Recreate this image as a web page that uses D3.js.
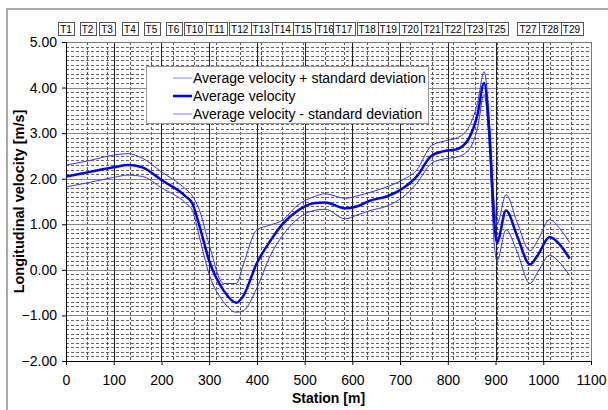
<!DOCTYPE html>
<html>
<head>
<meta charset="utf-8">
<script src="https://cdn.jsdelivr.net/npm/d3@7"></script>
<style>
  body { margin: 0; background: #fff; }
  text { font-family: "Liberation Sans", Arial, sans-serif; }
</style>
</head>
<body>
<div id="chart"></div>
<script>
// data
const stations = [0, 50, 100, 130, 160, 200, 250, 265, 280, 300, 330, 357, 371, 400, 427, 455, 483, 518, 543, 585,
  609, 637, 672, 706, 735, 765, 790, 820, 845, 862, 876, 887, 897, 903, 922, 945, 972, 990, 1013, 1035, 1055];
const meanVel = [2.05, 2.15, 2.25, 2.3, 2.25, 1.97, 1.62, 1.45, 0.95, 0.2, -0.45, -0.72, -0.58, 0.15, 0.62, 1.02, 1.28, 1.46, 1.48, 1.35,
  1.39, 1.52, 1.61, 1.79, 2.05, 2.5, 2.6, 2.65, 2.9, 3.4, 4.1, 3.0, 1.1, 0.6, 1.3, 0.75, 0.12, 0.35, 0.72, 0.55, 0.25];
const upperVel = [2.3, 2.4, 2.52, 2.55, 2.45, 2.15, 1.78, 1.62, 1.3, 0.55, -0.3, -0.3, 0.1, 0.88, 0.98, 1.1, 1.4, 1.6, 1.67, 1.57,
  1.62, 1.7, 1.82, 1.98, 2.19, 2.72, 2.82, 2.9, 3.15, 3.65, 4.35, 3.3, 1.5, 1.0, 1.65, 1.05, 0.42, 0.68, 1.1, 0.9, 0.6];
const lowerVel = [1.82, 1.92, 2.03, 2.08, 2.05, 1.8, 1.47, 1.3, 0.7, -0.1, -0.7, -0.93, -0.9, -0.4, 0.29, 0.77, 1.1, 1.3, 1.33, 1.12,
  1.2, 1.3, 1.4, 1.6, 1.9, 2.33, 2.43, 2.48, 2.65, 3.1, 3.85, 2.7, 0.6, 0.2, 0.88, 0.4, -0.3, -0.02, 0.32, 0.15, -0.12];

// cross-section labels along the top
const sectionNames = ["T1", "T2", "T3", "T4", "T5", "T6", "T10", "T11", "T12", "T13", "T14", "T15", "T16", "T17",
  "T18", "T19", "T20", "T21", "T22", "T23", "T25", "T27", "T28", "T29"];
const sectionPos = [0, 45, 86, 134, 179, 225, 269, 315, 364, 409, 453, 497, 543, 582,
  631, 675, 721, 767, 811, 857, 903, 968, 1014, 1059];

const xTicks = [0, 100, 200, 300, 400, 500, 600, 700, 800, 900, 1000, 1100];
const yTicks = [-2, -1, 0, 1, 2, 3, 4, 5];

const legendLabels = ["Average velocity + standard deviation", "Average velocity", "Average velocity - standard deviation"];

// dimensions
const W = 608, H = 410;
const margin = {top: 42, right: 17, bottom: 49, left: 66};
const width = W - margin.left - margin.right;
const height = H - margin.top - margin.bottom;

const svg = d3.select("#chart").append("svg")
  .attr("width", W).attr("height", H);

// outer frame
svg.append("rect")
  .attr("x", 7).attr("y", 9).attr("width", W - 6).attr("height", H - 8)
  .attr("fill", "none").attr("stroke", "#aaa").attr("stroke-width", 2);

const g = svg.append("g").attr("transform", `translate(${margin.left},${margin.top})`);

const x = d3.scaleLinear().domain([0, 1100]).range([0, width]);
const y = d3.scaleLinear().domain([-2, 5]).range([height, 0]);

// minor horizontal grid
const minorY = d3.range(-20, 51).map(d => d / 10).filter(d => Math.round(d * 10) % 10 !== 0);
g.append("g").selectAll("line").data(minorY).join("line")
  .attr("x1", 0).attr("x2", width)
  .attr("y1", d => Math.round(y(d)) + 0.5).attr("y2", d => Math.round(y(d)) + 0.5)
  .attr("stroke", "#666").attr("stroke-width", 1).attr("stroke-dasharray", "3,2");

// vertical dashed lines at the sections
g.append("g").selectAll("line").data(sectionPos.filter(d => d > 0)).join("line")
  .attr("x1", d => Math.round(x(d)) + 0.5).attr("x2", d => Math.round(x(d)) + 0.5)
  .attr("y1", 0).attr("y2", height)
  .attr("stroke", "#555").attr("stroke-width", 1).attr("stroke-dasharray", "3,2");

// major grid
g.append("g").selectAll("line").data(yTicks).join("line")
  .attr("x1", 0).attr("x2", width)
  .attr("y1", d => Math.round(y(d)) + 0.5).attr("y2", d => Math.round(y(d)) + 0.5)
  .attr("stroke", "#888");
g.append("g").selectAll("line").data(xTicks).join("line")
  .attr("x1", d => Math.round(x(d)) + 0.5).attr("x2", d => Math.round(x(d)) + 0.5)
  .attr("y1", 0).attr("y2", height)
  .attr("stroke", "#222");

// plot frame
g.append("rect").attr("x", 0.5).attr("y", 0.5).attr("width", width).attr("height", height)
  .attr("fill", "none").attr("stroke", "#777");

// axes
const xAxis = d3.axisBottom(x).tickValues(xTicks).tickSize(4).tickFormat(d3.format("d"));
const yAxis = d3.axisLeft(y).tickValues(yTicks).tickSize(4).tickFormat(d3.format(".2f"));

g.append("g").attr("transform", `translate(0,${height})`).call(xAxis)
  .call(a => a.select(".domain").attr("stroke", "#000"))
  .call(a => a.selectAll("text").attr("font-size", 14).attr("dy", "1.2em").attr("fill", "#000"));
g.append("g").call(yAxis)
  .call(a => a.select(".domain").attr("stroke", "#000"))
  .call(a => a.selectAll("text").attr("font-size", 14).attr("x", -9).attr("fill", "#000"));

// axis titles
svg.append("text")
  .attr("x", margin.left + width / 2).attr("y", 403)
  .attr("text-anchor", "middle").attr("font-size", 14).attr("font-weight", "bold")
  .text("Station [m]");
svg.append("text")
  .attr("transform", `translate(24,${margin.top + height / 2}) rotate(-90)`)
  .attr("text-anchor", "middle").attr("font-size", 14.5).attr("font-weight", "bold")
  .text("Longitudinal velocity [m/s]");

// section label boxes
const secG = svg.append("g").selectAll("g").data(sectionNames).join("g");
secG.append("text")
  .attr("x", (d, i) => margin.left + x(sectionPos[i]))
  .attr("y", 32.5).attr("text-anchor", "middle").attr("font-size", 10)
  .text(d => d)
  .each(function () {
    const b = this.getBBox();
    d3.select(this.parentNode).insert("rect", "text")
      .attr("x", Math.round(b.x - 2) + 0.5).attr("y", 22.5)
      .attr("width", Math.round(b.width + 4)).attr("height", 13)
      .attr("fill", "#fff").attr("stroke", "#555");
  });

// lines
const line = d3.line()
  .x((d, i) => x(stations[i]))
  .y(d => y(d))
  .curve(d3.curveMonotoneX);

g.append("path").datum(upperVel).attr("d", line)
  .attr("fill", "none").attr("stroke", "#3333ff").attr("stroke-width", 1);
g.append("path").datum(lowerVel).attr("d", line)
  .attr("fill", "none").attr("stroke", "#3333ff").attr("stroke-width", 1);
g.append("path").datum(meanVel).attr("d", line)
  .attr("fill", "none").attr("stroke", "#0000ff").attr("stroke-width", 2.5);

// legend
const lg = svg.append("g").attr("transform", "translate(146,66)");
lg.append("rect").attr("x", 0.5).attr("y", 0.5).attr("width", 282).attr("height", 57)
  .attr("fill", "#fff").attr("stroke", "#999");
const legendStyles = [{c: "#8080ff", w: 1}, {c: "#0000ff", w: 2.5}, {c: "#8080ff", w: 1}];
legendLabels.forEach((lab, i) => {
  const yy = 12 + i * 18;
  lg.append("line").attr("x1", 27).attr("x2", 46).attr("y1", yy).attr("y2", yy)
    .attr("stroke", legendStyles[i].c).attr("stroke-width", legendStyles[i].w);
  lg.append("text").attr("x", 47).attr("y", yy + 5).attr("font-size", 14).text(lab);
});
</script>
</body>
</html>
